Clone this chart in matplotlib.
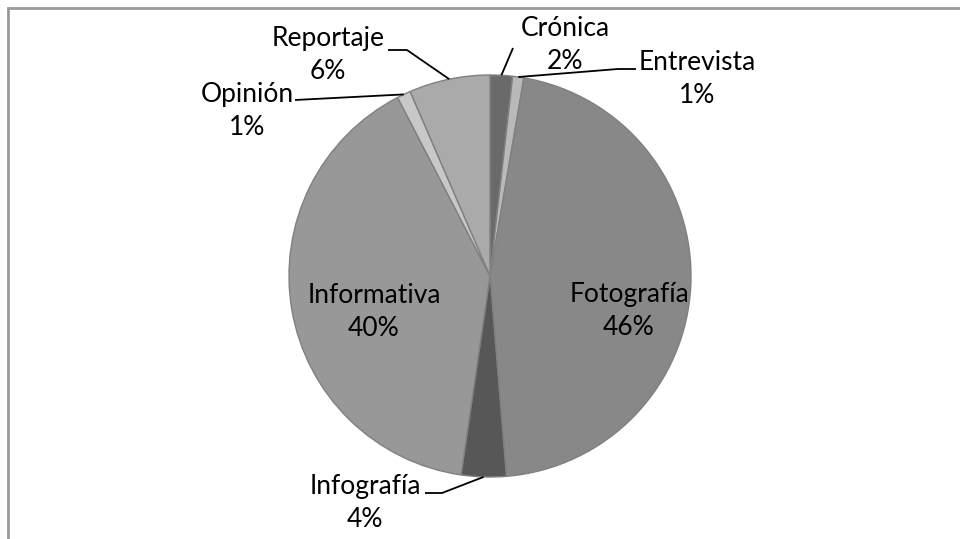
import numpy as np
import matplotlib
matplotlib.use('Agg')
import matplotlib.pyplot as plt
from matplotlib.patches import Rectangle

# Data
categories = ['Crónica', 'Entrevista', 'Fotografía', 'Infografía',
              'Informativa', 'Opinión', 'Reportaje']
shares = [1.8, 0.9, 46.0, 3.6, 40.1, 1.1, 6.5]
pct_labels = ['2%', '1%', '46%', '4%', '40%', '1%', '6%']
colors = ['#6a6a6a', '#b9b9b9', '#888888', '#575757', '#989898', '#c8c8c8', '#aaaaaa']

# label text centres (pixels, from top-left) and elbow points for leader lines
label_pos = {
    'Crónica': (565, 45), 'Entrevista': (697, 79), 'Fotografía': (629, 311),
    'Infografía': (365, 503), 'Informativa': (374, 312), 'Opinión': (247, 111),
    'Reportaje': (328, 55),
}
elbows = {
    'Crónica': [(513, 48)],
    'Entrevista': [(636, 69), (618, 69)],
    'Reportaje': [(388, 50), (407, 50)],
    'Opinión': [(295, 100)],
    'Infografía': [(425, 493), (442, 493)],
}
inside = ['Fotografía', 'Informativa']

W, H = 960, 539
cx, cy, r = 490, 276, 201

plt.rcParams['font.family'] = ['Lato', 'DejaVu Sans']

fig = plt.figure(figsize=(W / 100, H / 100), dpi=100)
ax = fig.add_axes([0, 0, 1, 1])

# chart frame (cut off at right and bottom)
fig.patches.append(Rectangle((8 / W, -0.1), 1.2, 1 - 8 / H + 0.1, transform=fig.transFigure,
                             fill=False, edgecolor='#9a9a9a', linewidth=2))

wedges, _ = ax.pie(shares, colors=colors, startangle=90, counterclock=False,
                   center=(cx, H - cy), radius=r,
                   wedgeprops=dict(edgecolor='#808080', linewidth=1))
ax.set_xlim(0, W)
ax.set_ylim(0, H)
ax.set_aspect('equal')
ax.axis('off')

for w, name, pct in zip(wedges, categories, pct_labels):
    tx, ty = label_pos[name]
    ax.text(tx, H - ty, name + '\n' + pct, ha='center', va='center',
            fontsize=19, linespacing=1.36, color='black')
    if name in inside:
        continue
    mid = np.deg2rad((w.theta1 + w.theta2) / 2)
    px = cx + r * np.cos(mid)
    py = (H - cy) + r * np.sin(mid)
    pts = [(x, H - y) for x, y in elbows[name]] + [(px, py)]
    xs, ys = zip(*pts)
    ax.plot(xs, ys, color='black', linewidth=1.3, solid_capstyle='butt')

plt.savefig('out.png', dpi=100)
